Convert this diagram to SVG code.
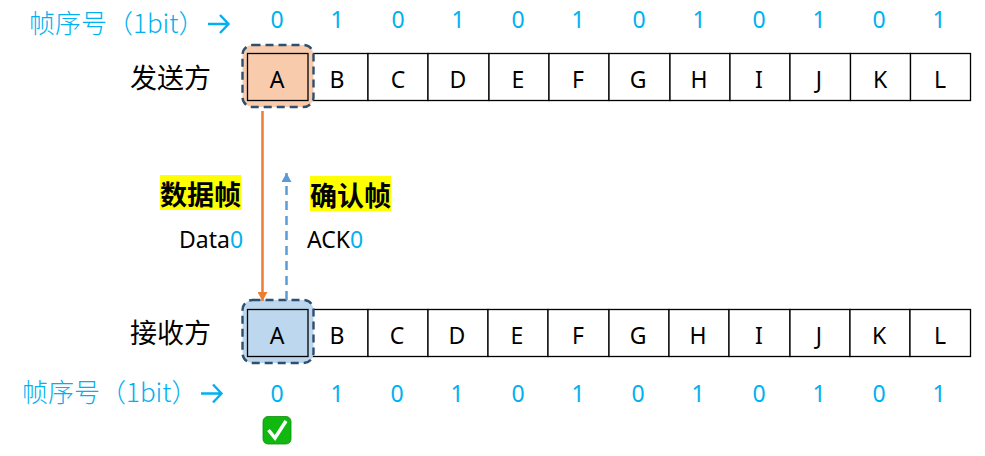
<svg xmlns="http://www.w3.org/2000/svg" width="985" height="456" viewBox="0 0 985 456">
<style>
text{font-family:"Noto Sans","Noto Sans CJK SC",sans-serif}
.cell{fill:#fff;stroke:#000;stroke-width:1.3}
.lab{font-size:23px;fill:#000;text-anchor:middle}
.seq{font-size:23px;fill:#00b0f0;text-anchor:middle}
.side{font-size:27px;fill:#000;font-family:"Noto Sans CJK SC",sans-serif;font-weight:400}
.head{font-size:26px;fill:#00b0f0;font-family:"Noto Sans CJK SC",sans-serif;font-weight:300}
.bold{font-size:27px;font-weight:700;fill:#000;font-family:"Noto Sans CJK SC",sans-serif;text-anchor:middle}
.sm{font-size:23px;fill:#000}
.blue{fill:#00b0f0}
.hl{stroke:#2f4f6f;stroke-width:2.4;stroke-dasharray:8 5}
</style>
<defs>
<marker id="ao" markerUnits="userSpaceOnUse" markerWidth="10" markerHeight="10" refX="9" refY="5" orient="auto"><path d="M0 0L9 5L0 10Z" fill="#ed7d31"/></marker>
<marker id="ab" markerUnits="userSpaceOnUse" markerWidth="10" markerHeight="10" refX="9" refY="5" orient="auto"><path d="M0 0L9 5L0 10Z" fill="#5b9bd5"/></marker>
</defs>
<g id="seq-top">
<text x="29" y="33" class="head">帧序号（1bit）</text>
<path d="M208 24H228M220 15L228.500 24L220 33" fill="none" stroke="#00b0f0" stroke-width="2.400"/>
<g class="seq"><text x="277" y="28">0</text><text x="337" y="28">1</text><text x="398" y="28">0</text><text x="458" y="28">1</text><text x="518" y="28">0</text><text x="578" y="28">1</text><text x="639" y="28">0</text><text x="699" y="28">1</text><text x="759" y="28">0</text><text x="819" y="28">1</text><text x="879" y="28">0</text><text x="939" y="28">1</text></g>
</g>
<g id="sender">
<text x="130" y="88" class="side">发送方</text>
<g id="sender-cells">
<rect x="308" y="53.500" width="60" height="47" class="cell"/><rect x="368" y="53.500" width="60" height="47" class="cell"/><rect x="428" y="53.500" width="61" height="47" class="cell"/><rect x="489" y="53.500" width="60" height="47" class="cell"/><rect x="549" y="53.500" width="60" height="47" class="cell"/><rect x="609" y="53.500" width="61" height="47" class="cell"/><rect x="670" y="53.500" width="60" height="47" class="cell"/><rect x="730" y="53.500" width="60" height="47" class="cell"/><rect x="790" y="53.500" width="60.500" height="47" class="cell"/><rect x="850.500" y="53.500" width="60" height="47" class="cell"/><rect x="910.500" y="53.500" width="60" height="47" class="cell"/>
<rect x="242.500" y="45" width="71" height="62" rx="10" fill="#f8cbad" class="hl"/>
<rect x="247.500" y="53.500" width="60.500" height="47" fill="none" stroke="#000" stroke-width="1.300"/>
</g>
<g class="lab"><text x="277" y="88">A</text><text x="337" y="88">B</text><text x="398" y="88">C</text><text x="458" y="88">D</text><text x="518" y="88">E</text><text x="578" y="88">F</text><text x="638" y="88">G</text><text x="699" y="88">H</text><text x="759" y="88">I</text><text x="819" y="88">J</text><text x="880" y="88">K</text><text x="940" y="88">L</text></g>
</g>
<g id="receiver">
<text x="130" y="343" class="side">接收方</text>
<rect x="308" y="309.500" width="60" height="47" class="cell"/><rect x="368" y="309.500" width="60" height="47" class="cell"/><rect x="428" y="309.500" width="60" height="47" class="cell"/><rect x="488" y="309.500" width="60" height="47" class="cell"/><rect x="548" y="309.500" width="61" height="47" class="cell"/><rect x="609" y="309.500" width="60" height="47" class="cell"/><rect x="669" y="309.500" width="60" height="47" class="cell"/><rect x="729" y="309.500" width="61" height="47" class="cell"/><rect x="790" y="309.500" width="60" height="47" class="cell"/><rect x="850" y="309.500" width="60" height="47" class="cell"/><rect x="910" y="309.500" width="60.500" height="47" class="cell"/>
<rect x="242.500" y="300" width="71" height="63" rx="10" fill="#bdd7ee" class="hl"/>
<rect x="247.500" y="309.500" width="60.500" height="47" fill="none" stroke="#000" stroke-width="1.300"/>
<g class="lab"><text x="277" y="344">A</text><text x="337" y="344">B</text><text x="397" y="344">C</text><text x="457" y="344">D</text><text x="517" y="344">E</text><text x="578" y="344">F</text><text x="638" y="344">G</text><text x="698" y="344">H</text><text x="759" y="344">I</text><text x="819" y="344">J</text><text x="879" y="344">K</text><text x="940" y="344">L</text></g>
</g>
<g id="seq-bottom">
<text x="22" y="402" class="head">帧序号（1bit）</text>
<path d="M201 393.500H221M213 384.500L221.500 393.500L213 402.500" fill="none" stroke="#00b0f0" stroke-width="2.400"/>
<g class="seq"><text x="277" y="402">0</text><text x="337" y="402">1</text><text x="397" y="402">0</text><text x="457" y="402">1</text><text x="518" y="402">0</text><text x="578" y="402">1</text><text x="638" y="402">0</text><text x="698" y="402">1</text><text x="759" y="402">0</text><text x="819" y="402">1</text><text x="879" y="402">0</text><text x="939" y="402">1</text></g>
</g>
<g id="check">
<rect x="263" y="416.500" width="28" height="27.500" rx="5" fill="#10b810" stroke="#0a8f0a" stroke-width="0.800"/>
<path d="M268.500 430L275 438L286 421" fill="none" stroke="#fff" stroke-width="3.500"/>
</g>
<g id="label-data">
<rect x="160" y="175" width="81" height="35" fill="#ff0"/>
<text x="200.500" y="205" class="bold">数据帧</text>
<text x="179" y="248" class="sm">Data<tspan class="blue">0</tspan></text>
</g>
<g id="label-ack">
<rect x="310" y="176" width="81" height="35" fill="#ff0"/>
<text x="350.500" y="206" class="bold">确认帧</text>
<text x="307" y="248" class="sm">ACK<tspan class="blue">0</tspan></text>
</g>
<g id="connectors">
<line x1="262.500" y1="111" x2="262.500" y2="301" stroke="#ed7d31" stroke-width="2.500" marker-end="url(#ao)"/>
<line x1="286.500" y1="300" x2="286.500" y2="173" stroke="#5b9bd5" stroke-width="2.500" stroke-dasharray="9 6" marker-end="url(#ab)"/>
</g>
</svg>
